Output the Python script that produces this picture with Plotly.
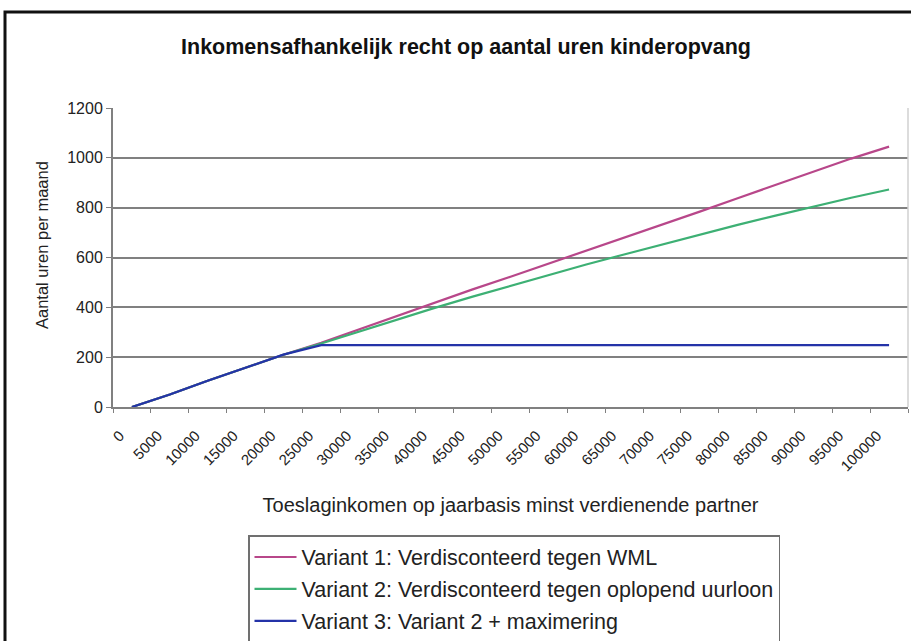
import plotly.graph_objects as go

categories = [str(v) for v in range(0, 100001, 5000)]
variant1 = [0, 50, 105, 158, 210, 258, 312, 366, 420, 472, 523, 575, 625, 678, 731, 784, 838, 892, 945, 997, 1045]
variant2 = [0, 50, 105, 158, 210, 255, 303, 350, 398, 443, 487, 530, 572, 612, 652, 692, 731, 768, 805, 840, 873]
variant3 = [0, 50, 105, 158, 210, 248, 248, 248, 248, 248, 248, 248, 248, 248, 248, 248, 248, 248, 248, 248, 248]

names = ["Variant 1: Verdisconteerd tegen WML",
         "Variant 2: Verdisconteerd tegen oplopend uurloon",
         "Variant 3: Variant 2 + maximering"]
colors = ["#B8478A", "#3DB074", "#2433A8"]

FONT = "Arial, Liberation Sans, sans-serif"
W, H = 911, 641
# plot area in page pixels: x 113..908, y 108..407
L, R, T, B = 113, W - 908, 108, H - 407
pw = W - L - R
ph = H - T - B


def px2paper_x(px):
    return (px - L) / pw


def px2paper_y(py):
    return (H - B - py) / ph


fig = go.Figure()
for i, (ys, nm, c) in enumerate(zip([variant1, variant2, variant3], names, colors)):
    fig.add_trace(go.Scatter(x=categories, y=ys, mode="lines", name=nm,
                             line=dict(color=c, width=2.2), legendgroup=f"g{i}"))

fig.update_layout(
    width=W, height=H,
    margin=dict(l=L, r=R, t=T, b=B, autoexpand=False),
    paper_bgcolor="white", plot_bgcolor="white",
    font=dict(family=FONT, color="#222222"),
    title=dict(text="<b>Inkomensafhankelijk recht op aantal uren kinderopvang</b>",
               x=px2paper_x(466), xref="paper", xanchor="center",
               y=1 - 46 / H, yanchor="middle", font=dict(size=21.5, color="#111111")),
    showlegend=True,
    legend=dict(x=px2paper_x(248), y=px2paper_y(535), xanchor="left", yanchor="top",
                bordercolor="#707070", borderwidth=1.5, bgcolor="white",
                font=dict(size=21.5, color="#222222"), traceorder="grouped",
                tracegroupgap=1, itemwidth=42),
    xaxis=dict(type="category", tickangle=-45, tickson="boundaries", ticks="outside",
               ticklen=4, tickcolor="#808080", showline=True, linecolor="#808080",
               linewidth=2, showgrid=False, tickfont=dict(size=15), automargin=False,
               ticklabelstandoff=12, ticklabelshift=-12,
               title=dict(text="Toeslaginkomen op jaarbasis minst verdienende partner",
                          font=dict(size=20), standoff=25),
               range=[-0.5, 20.5]),
    yaxis=dict(range=[0, 1200], dtick=200, ticks="outside", ticklen=5, automargin=False,
               tickcolor="#808080", showline=True, linecolor="#808080", linewidth=2,
               showgrid=True, gridcolor="#808080", gridwidth=1.5, zeroline=False,
               tickfont=dict(size=16)),
    annotations=[
        dict(text="Aantal uren per maand", xref="paper", yref="paper",
             x=px2paper_x(42), y=px2paper_y(245), xanchor="center", yanchor="middle",
             textangle=-90, showarrow=False, font=dict(size=16.5, color="#222222")),
    ],
    shapes=[
        dict(type="line", xref="paper", yref="paper", x0=1, x1=1, y0=0, y1=1,
             line=dict(color="#D0D0D0", width=1.5)),
        dict(type="rect", xref="paper", yref="paper",
             x0=px2paper_x(5), x1=px2paper_x(930),
             y0=px2paper_y(680), y1=px2paper_y(12),
             line=dict(color="#111111", width=3), layer="below"),
    ],
)

fig.write_html("out.html", config={"displayModeBar": False},
               post_script="document.body.style.margin='0px';")
